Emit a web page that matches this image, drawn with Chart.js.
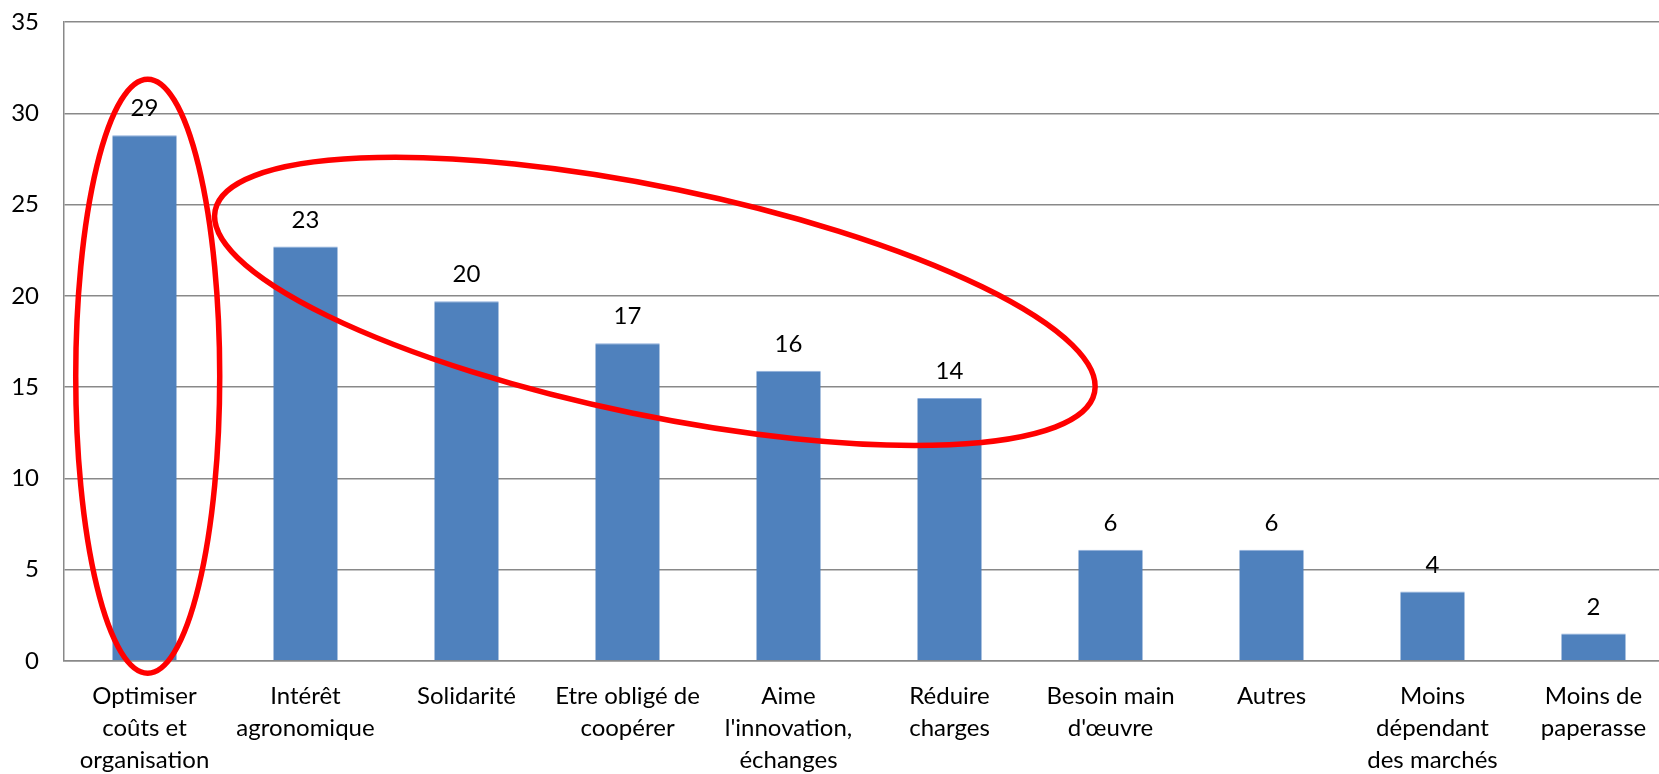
<!DOCTYPE html>
<html>
<head>
<meta charset="utf-8">
<script src="https://cdn.jsdelivr.net/npm/chart.js@4/dist/chart.umd.min.js"></script>
<style>
  html, body { margin: 0; padding: 0; background: #fff; overflow: hidden; }
  canvas { display: block; }
</style>
</head>
<body>
<canvas id="motives" width="1674" height="774"></canvas>
<script>
const categories = [
  ["Optimiser", "coûts et", "organisation"],
  ["Intérêt", "agronomique"],
  ["Solidarité"],
  ["Etre obligé de", "coopérer"],
  ["Aime", "l'innovation,", "échanges"],
  ["Réduire", "charges"],
  ["Besoin main", "d'œuvre"],
  ["Autres"],
  ["Moins", "dépendant", "des marchés"],
  ["Moins de", "paperasse"],
];
const shares = [28.8, 22.7, 19.7, 17.4, 15.9, 14.4, 6.1, 6.1, 3.8, 1.5];
const yTicks = [0, 5, 10, 15, 20, 25, 30, 35];

// red hand-drawn circles: centre in (category index, value), radii in px
const highlights = [
  { x: 0.02, y: 15.6, rx: 72, ry: 297, angle: 0 },
  { x: 3.17, y: 19.7, rx: 449, ry: 114, angle: 11.7 },
];

const gridGray = "#898989";

const valueLabels = {
  id: "valueLabels",
  afterDatasetsDraw(chart) {
    const { ctx } = chart;
    const meta = chart.getDatasetMeta(0);
    ctx.save();
    ctx.fillStyle = "#000";
    ctx.font = "24px Lato";
    ctx.textAlign = "center";
    ctx.textBaseline = "alphabetic";
    meta.data.forEach((bar, i) => {
      ctx.fillText(Math.round(shares[i]).toString(), bar.x, bar.y - 19);
    });
    ctx.restore();
  },
};

const ellipses = {
  id: "ellipses",
  afterDraw(chart) {
    const { ctx } = chart;
    const xs = chart.scales.x;
    const ys = chart.scales.y;
    ctx.save();
    ctx.strokeStyle = "#ff0000";
    ctx.lineWidth = 5.5;
    highlights.forEach((h) => {
      ctx.beginPath();
      ctx.ellipse(
        xs.getPixelForValue(h.x),
        ys.getPixelForValue(h.y),
        h.rx,
        h.ry,
        (h.angle * Math.PI) / 180,
        0,
        Math.PI * 2
      );
      ctx.stroke();
    });
    ctx.restore();
  },
};

new Chart(document.getElementById("motives").getContext("2d"), {
  type: "bar",
  data: {
    labels: categories,
    datasets: [
      {
        data: shares,
        backgroundColor: "#4f81bd",
        borderColor: "#8eaedb",
        borderWidth: { top: 1, left: 0, right: 0, bottom: 0 },
        borderSkipped: false,
        barPercentage: 0.4,
        categoryPercentage: 1,
      },
    ],
  },
  options: {
    responsive: false,
    animation: false,
    layout: { padding: { top: 22, right: 0, bottom: 0, left: 0 } },
    plugins: {
      legend: { display: false },
      tooltip: { enabled: false },
    },
    scales: {
      x: {
        grid: { display: false, drawTicks: false },
        border: { display: true, color: gridGray, width: 1.5 },
        ticks: {
          color: "#000",
          font: { family: "Lato", size: 24, lineHeight: 1.33 },
          padding: 19,
          autoSkip: false,
          maxRotation: 0,
          minRotation: 0,
        },
        afterFit(scale) {
          scale.height = 113;
        },
      },
      y: {
        min: 0,
        max: 35,
        afterBuildTicks(scale) {
          scale.ticks = yTicks.map((v) => ({ value: v }));
        },
        grid: { color: gridGray, lineWidth: 1.5, drawTicks: false },
        border: { display: true, color: gridGray, width: 1.5 },
        ticks: {
          color: "#000",
          font: { family: "Lato", size: 24 },
          padding: 25,
        },
        afterFit(scale) {
          scale.width = 64;
          scale.paddingTop = 0;
          scale.paddingBottom = 0;
        },
      },
    },
  },
  plugins: [valueLabels, ellipses],
});
</script>
</body>
</html>
